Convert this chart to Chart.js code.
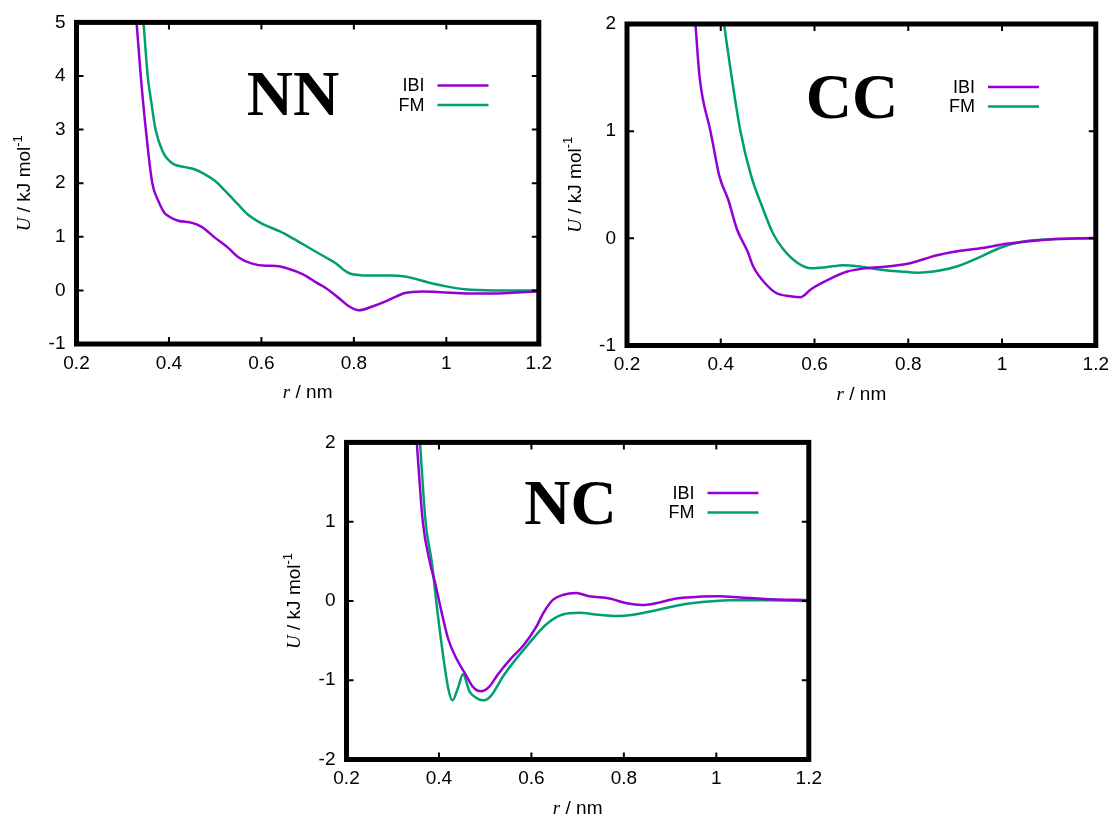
<!DOCTYPE html>
<html>
<head>
<meta charset="utf-8">
<script src="https://cdn.jsdelivr.net/npm/chart.js@4.4.1/dist/chart.umd.min.js"></script>
<style>
  html, body { margin: 0; padding: 0; background: #fff; }
  body { width: 1117px; height: 818px; position: relative; overflow: hidden; }
  canvas { position: absolute; }
</style>
</head>
<body>
<canvas id="chartNN" width="560" height="420" style="left:0px;top:0px"></canvas>
<canvas id="chartCC" width="557" height="420" style="left:560px;top:0px"></canvas>
<canvas id="chartNC" width="560" height="398" style="left:270px;top:420px"></canvas>
<script>
// pair potentials U(r), r in nm, U in kJ/mol
const seriesNames = ['IBI', 'FM'];
const xTicks = [0.2, 0.4, 0.6, 0.8, 1, 1.2];

// NN
const nnR_IBI = [0.330, 0.339, 0.350, 0.364, 0.377, 0.390, 0.400, 0.420, 0.450, 0.470, 0.500, 0.530, 0.550, 0.580, 0.610, 0.632, 0.660, 0.690, 0.720, 0.740, 0.770, 0.790, 0.811, 0.840, 0.870, 0.890, 0.910, 0.950, 0.980, 1.020, 1.060, 1.100, 1.150, 1.200];
const nnU_IBI = [5.0, 4.0, 3.0, 2.0, 1.67, 1.45, 1.38, 1.30, 1.26, 1.19, 0.98, 0.78, 0.62, 0.50, 0.46, 0.455, 0.40, 0.30, 0.14, 0.04, -0.16, -0.30, -0.37, -0.30, -0.20, -0.12, -0.05, -0.02, -0.03, -0.05, -0.06, -0.06, -0.04, -0.02];
const nnR_FM = [0.345, 0.354, 0.362, 0.371, 0.387, 0.396, 0.411, 0.434, 0.455, 0.475, 0.500, 0.520, 0.550, 0.570, 0.600, 0.640, 0.670, 0.700, 0.730, 0.760, 0.770, 0.780, 0.790, 0.800, 0.820, 0.850, 0.880, 0.910, 0.940, 0.970, 1.000, 1.040, 1.100, 1.200];
const nnU_FM = [5.0, 4.0, 3.5, 3.0, 2.58, 2.46, 2.35, 2.30, 2.26, 2.18, 2.04, 1.87, 1.60, 1.42, 1.25, 1.10, 0.96, 0.81, 0.66, 0.51, 0.44, 0.37, 0.32, 0.295, 0.28, 0.28, 0.28, 0.26, 0.20, 0.13, 0.075, 0.02, 0.0, 0.0];

// CC
const ccR_IBI = [0.346, 0.355, 0.378, 0.383, 0.397, 0.416, 0.435, 0.458, 0.469, 0.499, 0.518, 0.548, 0.570, 0.594, 0.632, 0.670, 0.708, 0.760, 0.806, 0.859, 0.905, 0.958, 1.010, 1.086, 1.200];
const ccU_IBI = [2.0, 1.5, 1.0, 0.89, 0.58, 0.36, 0.08, -0.13, -0.26, -0.44, -0.51, -0.54, -0.55, -0.47, -0.38, -0.31, -0.28, -0.26, -0.23, -0.16, -0.12, -0.09, -0.05, -0.015, 0.006];
const ccR_FM = [0.407, 0.420, 0.442, 0.465, 0.488, 0.511, 0.533, 0.564, 0.594, 0.624, 0.662, 0.692, 0.738, 0.783, 0.821, 0.867, 0.905, 0.950, 0.995, 1.040, 1.100, 1.200];
const ccU_FM = [2.0, 1.6, 1.0, 0.58, 0.30, 0.05, -0.10, -0.23, -0.28, -0.27, -0.25, -0.26, -0.29, -0.31, -0.32, -0.30, -0.26, -0.18, -0.09, -0.035, -0.01, 0.0];

// NC
const ncR_IBI = [0.352, 0.365, 0.381, 0.392, 0.406, 0.420, 0.438, 0.456, 0.473, 0.491, 0.509, 0.527, 0.555, 0.583, 0.612, 0.626, 0.647, 0.669, 0.697, 0.725, 0.769, 0.807, 0.838, 0.868, 0.914, 0.967, 1.006, 1.051, 1.105, 1.200];
const ncU_IBI = [2.0, 1.0, 0.47, 0.22, -0.15, -0.48, -0.73, -0.91, -1.08, -1.14, -1.08, -0.93, -0.73, -0.56, -0.31, -0.15, 0.016, 0.078, 0.10, 0.06, 0.03, -0.03, -0.05, -0.03, 0.03, 0.055, 0.06, 0.045, 0.025, 0.01];
const ncR_FM = [0.359, 0.371, 0.385, 0.394, 0.406, 0.420, 0.429, 0.441, 0.452, 0.466, 0.480, 0.495, 0.512, 0.541, 0.597, 0.633, 0.668, 0.704, 0.739, 0.785, 0.823, 0.868, 0.922, 0.975, 1.028, 1.105, 1.200];
const ncU_FM = [2.0, 1.0, 0.47, 0.0, -0.56, -1.10, -1.254, -1.10, -0.925, -1.14, -1.22, -1.254, -1.20, -0.93, -0.52, -0.29, -0.17, -0.15, -0.17, -0.19, -0.17, -0.12, -0.05, -0.01, 0.01, 0.01, 0.0];

const colIBI = '#9400d3';
const colFM = '#009e73';
const sans = "'Liberation Sans', Arial, sans-serif";
const serif = "'Liberation Serif', 'Times New Roman', serif";

function pts(xs, ys) {
  return xs.map((x, i) => ({ x: x, y: ys[i] }));
}

// draws a run of text pieces with different fonts, centred on (0,0)
function drawPieces(ctx, pieces) {
  let total = 0;
  pieces.forEach(p => { ctx.font = p.font; p.w = ctx.measureText(p.text).width; total += p.w; });
  let x = -total / 2;
  pieces.forEach(p => {
    ctx.font = p.font;
    ctx.fillText(p.text, x, p.dy || 0);
    x += p.w;
  });
}

// thick box, mirrored inward ticks, panel name, key and axis titles
const framePlugin = {
  id: 'frame',
  afterDatasetsDraw(chart, args, opts) {
    const { ctx, chartArea: a, scales } = chart;
    ctx.save();
    ctx.strokeStyle = '#000';
    ctx.fillStyle = '#000';

    ctx.lineWidth = 2;
    ctx.beginPath();
    scales.x.ticks.forEach(t => {
      const px = scales.x.getPixelForValue(t.value);
      if (px < a.left + 4 || px > a.right - 4) return;
      ctx.moveTo(px, a.bottom); ctx.lineTo(px, a.bottom - 7);
      ctx.moveTo(px, a.top); ctx.lineTo(px, a.top + 7);
    });
    scales.y.ticks.forEach(t => {
      const py = scales.y.getPixelForValue(t.value);
      if (py < a.top + 4 || py > a.bottom - 4) return;
      ctx.moveTo(a.left, py); ctx.lineTo(a.left + 7, py);
      ctx.moveTo(a.right, py); ctx.lineTo(a.right - 7, py);
    });
    ctx.stroke();

    ctx.lineWidth = 5;
    ctx.strokeRect(a.left, a.top, a.right - a.left, a.bottom - a.top);

    // panel name
    ctx.font = 'bold 64px ' + serif;
    ctx.textAlign = 'center';
    ctx.textBaseline = 'alphabetic';
    ctx.fillText(opts.name, a.left + opts.nameX, a.top + opts.nameY);

    // key: label on the left, line sample on the right
    ctx.font = '18px ' + sans;
    ctx.textAlign = 'right';
    ctx.textBaseline = 'middle';
    chart.data.datasets.forEach((ds, i) => {
      const y = a.top + opts.keyY + i * 19.5;
      ctx.fillStyle = '#000';
      ctx.fillText(ds.label, a.left + 348, y + 1);
      ctx.strokeStyle = ds.borderColor;
      ctx.lineWidth = 2.5;
      ctx.beginPath();
      ctx.moveTo(a.left + 361, y);
      ctx.lineTo(a.left + 412, y);
      ctx.stroke();
    });

    // axis titles
    ctx.fillStyle = '#000';
    ctx.textAlign = 'left';
    ctx.textBaseline = 'middle';
    ctx.save();
    ctx.translate((a.left + a.right) / 2, a.bottom + 49);
    drawPieces(ctx, [
      { text: 'r', font: 'italic 19px ' + serif },
      { text: ' / nm', font: '19px ' + sans }
    ]);
    ctx.restore();

    ctx.save();
    ctx.translate(a.left - 51.5, (a.top + a.bottom) / 2);
    ctx.rotate(-Math.PI / 2);
    drawPieces(ctx, [
      { text: 'U', font: 'italic 19px ' + serif },
      { text: ' / kJ mol', font: '19px ' + sans },
      { text: '-1', font: '13px ' + sans, dy: -7 }
    ]);
    ctx.restore();

    ctx.restore();
  }
};

function makePanel(id, panel) {
  const canvas = document.getElementById(id);
  return new Chart(canvas, {
    type: 'line',
    data: {
      datasets: [
        { label: seriesNames[0], data: pts(panel.r1, panel.u1), borderColor: colIBI },
        { label: seriesNames[1], data: pts(panel.r2, panel.u2), borderColor: colFM }
      ]
    },
    options: {
      responsive: false,
      animation: false,
      events: [],
      layout: { padding: { left: 0, top: panel.top, right: canvas.width - panel.right, bottom: 0 } },
      elements: {
        point: { radius: 0 },
        line: { borderWidth: 2.5, cubicInterpolationMode: 'monotone', fill: false }
      },
      scales: {
        x: {
          type: 'linear',
          min: 0.2, max: 1.2,
          afterBuildTicks: s => { s.ticks = xTicks.map(v => ({ value: v })); },
          afterFit: s => { s.height = canvas.height - panel.bottom; },
          grid: { display: false, drawTicks: false },
          border: { display: false },
          ticks: {
            color: '#000', padding: 8, maxRotation: 0,
            font: { family: sans, size: 19 },
            callback: v => String(+v.toFixed(1))
          }
        },
        y: {
          type: 'linear',
          min: panel.ymin, max: panel.ymax,
          afterBuildTicks: s => { s.ticks = panel.yTicks.map(v => ({ value: v })); },
          afterFit: s => { s.width = panel.left; },
          grid: { display: false, drawTicks: false },
          border: { display: false },
          ticks: {
            color: '#000', padding: 11,
            font: { family: sans, size: 19 },
            callback: v => String(Math.round(v))
          }
        }
      },
      plugins: {
        legend: { display: false },
        tooltip: { enabled: false },
        frame: { name: panel.name, nameX: panel.nameX, nameY: panel.nameY, keyY: panel.keyY }
      }
    },
    plugins: [framePlugin]
  });
}

makePanel('chartNN', {
  name: 'NN', r1: nnR_IBI, u1: nnU_IBI, r2: nnR_FM, u2: nnU_FM,
  ymin: -1, ymax: 5, yTicks: [-1, 0, 1, 2, 3, 4, 5],
  left: 76.5, top: 22, right: 546, bottom: 344,
  nameX: 216.5, nameY: 93, keyY: 63
});
makePanel('chartCC', {
  name: 'CC', r1: ccR_IBI, u1: ccU_IBI, r2: ccR_FM, u2: ccU_FM,
  ymin: -1, ymax: 2, yTicks: [-1, 0, 1, 2],
  left: 67, top: 24, right: 536.5, bottom: 345.5,
  nameX: 225, nameY: 94, keyY: 63
});
makePanel('chartNC', {
  name: 'NC', r1: ncR_IBI, u1: ncU_IBI, r2: ncR_FM, u2: ncU_FM,
  ymin: -2, ymax: 2, yTicks: [-2, -1, 0, 1, 2],
  left: 76.5, top: 16.5, right: 546.5, bottom: 339.5,
  nameX: 224, nameY: 81.5, keyY: 50.5
});
</script>
</body>
</html>
